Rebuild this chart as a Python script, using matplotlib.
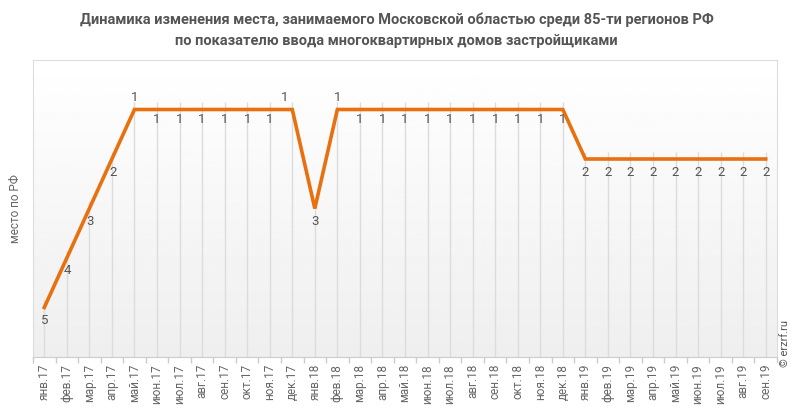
import matplotlib
matplotlib.use("Agg")
from matplotlib import pyplot as plt
import numpy as np

plt.rcParams['font.family'] = ['Roboto', 'DejaVu Sans']

months = ['янв.17', 'фев.17', 'мар.17', 'апр.17', 'май.17', 'июн.17', 'июл.17',
          'авг.17', 'сен.17', 'окт.17', 'ноя.17', 'дек.17',
          'янв.18', 'фев.18', 'мар.18', 'апр.18', 'май.18', 'июн.18', 'июл.18',
          'авг.18', 'сен.18', 'окт.18', 'ноя.18', 'дек.18',
          'янв.19', 'фев.19', 'мар.19', 'апр.19', 'май.19', 'июн.19', 'июл.19',
          'авг.19', 'сен.19']
place = [5, 4, 3, 2, 1, 1, 1, 1, 1, 1, 1, 1,
         3, 1, 1, 1, 1, 1, 1, 1, 1, 1, 1, 1,
         2, 2, 2, 2, 2, 2, 2, 2, 2]
# where the label goes: 'a' above, 'b' below
label_pos = ['b', 'b', 'b', 'b', 'a', 'b', 'b', 'b', 'b', 'b', 'b', 'a',
             'b', 'a', 'b', 'b', 'b', 'b', 'b', 'b', 'b', 'b', 'b', 'b',
             'b', 'b', 'b', 'b', 'b', 'b', 'b', 'b', 'b']

title = ('Динамика изменения места, занимаемого Московской областью среди 85-ти регионов РФ\n'
         'по показателю ввода многоквартирных домов застройщиками')

fig = plt.figure(figsize=(7.93, 4.15), dpi=100)
ax = fig.add_axes([33 / 793, 1 - 357 / 415, 744 / 793, 297 / 415])

x = np.arange(len(months))

# background gradient
grad = np.linspace(1.0, 0.935, 256).reshape(-1, 1)
ax.imshow(grad, cmap='gray', vmin=0, vmax=1, aspect='auto',
          extent=[-0.5, len(months) - 0.5, 6, 0], zorder=0)

ax.vlines(x, np.array(place) - 0.15, 6, color='#dcdcdc', lw=1, zorder=1)
ax.plot(x, place, color='#e8700e', lw=2.6, zorder=3, solid_joinstyle='miter')

for i, v in enumerate(place):
    if label_pos[i] == 'a':
        dx = -8 if i == 11 else 0
        ax.annotate(str(v), (i, v), xytext=(dx, 12), textcoords='offset pixels',
                    ha='center', va='center', fontsize=9.5, color='#555555', zorder=4)
    else:
        dy = -10 if v == 1 else -13
        dx = 1 if v in (3, 4, 2) and i < 4 else 0
        ax.annotate(str(v), (i, v), xytext=(dx, dy), textcoords='offset pixels',
                    ha='center', va='center', fontsize=9.5, color='#555555', zorder=4)

ax.set_xlim(-0.5, len(months) - 0.5)
ax.set_ylim(6, 0)
ax.set_yticks([])
ax.set_xticks(x)
ax.set_xticklabels(months, rotation=90, fontsize=8.5, color='#666666')
ax.tick_params(axis='x', which='major', length=0, pad=5)
ax.set_xticks(np.arange(-0.5, len(months)), minor=True)
ax.tick_params(axis='x', which='minor', length=4, color='#cccccc', width=1)

for s in ['top', 'left', 'right']:
    ax.spines[s].set_color('#dddddd')
ax.spines['bottom'].set_color('#cccccc')

ax.set_ylabel('место по РФ', fontsize=8.5, color='#666666', labelpad=8)

fig.suptitle(title, fontsize=10.5, fontweight='bold', color='#555555', y=0.97,
             linespacing=1.6)
fig.text(0.99, 0.115, '© erzrf.ru', rotation=90, fontsize=8, color='#555555',
         ha='center', va='bottom')

fig.savefig('out.png', dpi=100)
